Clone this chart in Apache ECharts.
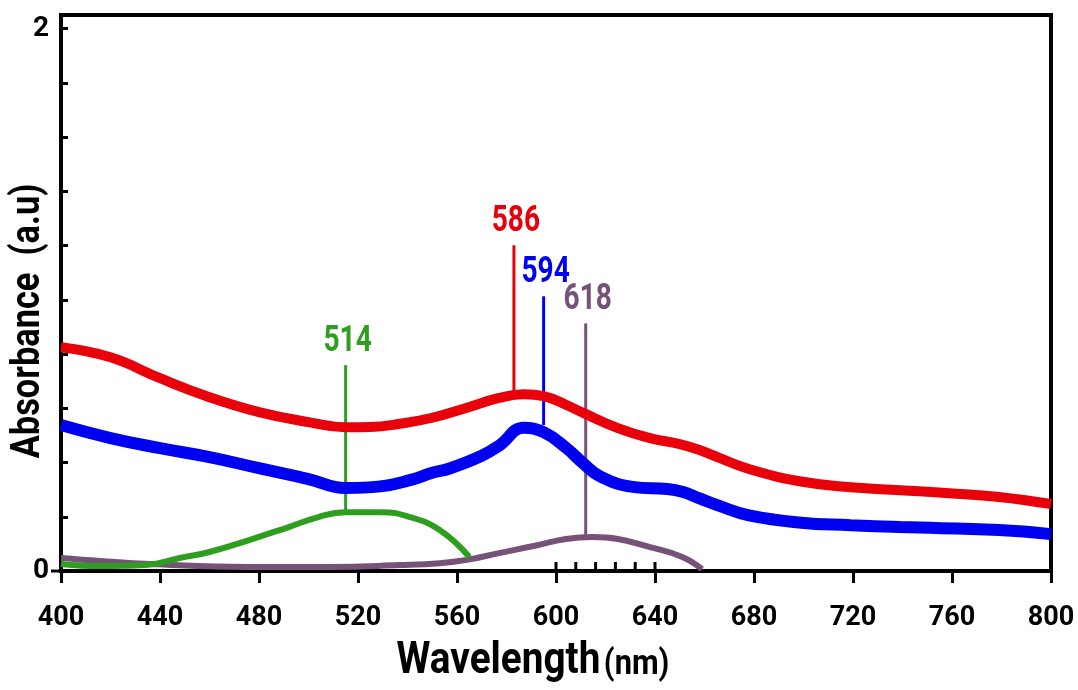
<!DOCTYPE html>
<html>
<head>
<meta charset="utf-8">
<script src="https://cdn.jsdelivr.net/npm/echarts@6/dist/echarts.min.js"></script>
<style>
html,body{margin:0;padding:0;background:#fff;}
#chart{width:1078px;height:690px;}
</style>
</head>
<body>
<div id="chart"></div>
<script>
// ---- data ----
const redX   = [400,420,440,460,480,500,515,525,537,550,564,577,587,595,604,611,625,638,650,658,666,678,699,719,739,759,779,800];
const redY   = [0.825,0.788,0.711,0.641,0.586,0.549,0.530,0.531,0.543,0.565,0.602,0.638,0.652,0.645,0.613,0.583,0.527,0.490,0.468,0.446,0.417,0.376,0.330,0.309,0.298,0.287,0.273,0.247];

const blueX  = [400,420,440,460,480,500,515,529,541,550,557,570,577,587,595,604,611,618,631,645,651,658,666,678,699,719,739,779,800];
const blueY  = [0.538,0.490,0.453,0.420,0.379,0.339,0.306,0.312,0.335,0.362,0.378,0.425,0.462,0.528,0.512,0.455,0.397,0.348,0.310,0.302,0.292,0.268,0.240,0.205,0.178,0.169,0.162,0.151,0.136];

const greenX = [400,416,434,448,460,476,492,504,515,529,541,553,565];
const greenY = [0.026,0.018,0.022,0.048,0.070,0.114,0.162,0.199,0.217,0.217,0.199,0.151,0.052];

const purpleX = [400,416,436,476,509,537,553,564,577,591,604,615,625,638,651,659];
const purpleY = [0.048,0.037,0.026,0.015,0.015,0.022,0.029,0.041,0.066,0.092,0.118,0.125,0.118,0.088,0.052,0.007];

// peak marker lines: [x, bottom, top]
const markerLabels = ['514','586','594','618'];
const markerX      = [515, 583, 595, 612];
const markerBottom = [0.225, 0.648, 0.538, 0.125];
const markerTop    = [0.759, 1.201, 1.013, 0.913];

// extra ticks
const xExtraTicks = [600,608,616,624,632,640];   // upward ticks on the x axis
const yOutTicks   = [0];                          // outward tick on the y axis

const xTickLabels = ['400','440','480','520','560','600','640','680','720','760','800'];
const yTickLabels = ['0','2'];

const colors = { red:'#e8000b', blue:'#0000f0', green:'#2e9e1f', purple:'#765279' };
const markerColors = [colors.green, colors.red, colors.blue, colors.purple];

const FONT = "Roboto, 'DejaVu Sans', sans-serif";

function zip(xs, ys){ return xs.map((x,i)=>[x, ys[i]]); }

const lineBase = { type:'line', smooth:0.45, showSymbol:false, symbol:'none' };
const series = [
  Object.assign({}, lineBase, { name:'red', data:zip(redX,redY), lineStyle:{color:colors.red, width:10}, z:3 }),
  Object.assign({}, lineBase, { name:'blue', data:zip(blueX,blueY), lineStyle:{color:colors.blue, width:12}, z:3 }),
  Object.assign({}, lineBase, { name:'green', data:zip(greenX,greenY), lineStyle:{color:colors.green, width:6}, z:4 }),
  Object.assign({}, lineBase, { name:'purple', data:zip(purpleX,purpleY), lineStyle:{color:colors.purple, width:6}, z:3 })
];

series.push({
  name:'markers', type:'custom', clip:false, z:2,
  data: markerX.map((x,i) => [x, markerBottom[i], markerTop[i], i]),
  renderItem: function(params, api){
    const i = api.value(3);
    const pb = api.coord([api.value(0), api.value(1)]);
    const pt = api.coord([api.value(0), api.value(2)]);
    return { type:'group', children:[
      { type:'line', shape:{x1:pb[0], y1:pb[1], x2:pt[0], y2:pt[1]},
        style:{stroke:markerColors[i], lineWidth:3} },
      { type:'text', x:pt[0]+2, y:pt[1]-5, scaleX:0.78,
        style:{text:markerLabels[i], fill:markerColors[i], fontFamily:FONT, fontWeight:'bold',
               fontSize:36, align:'center', verticalAlign:'bottom'} }
    ]};
  }
});

series.push({
  name:'xticks', type:'custom', clip:false, z:10,
  data: xExtraTicks.map(x => [x, 0]),
  renderItem: function(params, api){
    const p = api.coord([api.value(0), 0]);
    return { type:'line', shape:{x1:p[0], y1:p[1], x2:p[0], y2:p[1]-9},
             style:{stroke:'#000', lineWidth:3} };
  }
});

series.push({
  name:'yticks', type:'custom', clip:false, z:10,
  data: yOutTicks.map(y => [400, y]),
  renderItem: function(params, api){
    const p = api.coord([api.value(0), api.value(1)]);
    return { type:'line', shape:{x1:p[0], y1:p[1], x2:p[0]-10, y2:p[1]},
             style:{stroke:'#000', lineWidth:3} };
  }
});

const chart = echarts.init(document.getElementById('chart'), null, {renderer:'canvas'});
chart.setOption({
  animation:false,
  backgroundColor:'#fff',
  grid:{left:61, right:27, top:15, bottom:119, show:true, borderColor:'#000', borderWidth:4},
  xAxis:{
    type:'value', min:400, max:800, interval:40,
    axisLine:{show:true, onZero:false, lineStyle:{color:'#000', width:4}},
    axisTick:{show:true, inside:false, length:12, lineStyle:{color:'#000', width:3}},
    splitLine:{show:false},
    axisLabel:{margin:34, color:'#000', fontFamily:FONT, fontWeight:'bold', fontSize:27,
      formatter: v => { const s = String(Math.round(v)); return xTickLabels.includes(s) ? s : ''; }}
  },
  yAxis:{
    type:'value', min:0, max:2.05, interval:0.2,
    axisLine:{show:true, lineStyle:{color:'#000', width:4}},
    axisTick:{show:true, inside:true, length:7, lineStyle:{color:'#000', width:3}},
    splitLine:{show:false},
    axisLabel:{margin:12, color:'#000', fontFamily:FONT, fontWeight:'bold', fontSize:28,
      formatter: v => { if (Math.abs(v) < 1e-6) return yTickLabels[0];
                        if (Math.abs(v-2) < 1e-6) return yTickLabels[1]; return ''; }}
  },
  graphic:[
    { type:'text', x:29, y:321, rotation:Math.PI/2, scaleX:0.86,
      style:{text:'Absorbance  (a.u)', fontFamily:FONT, fontWeight:'bold', fontSize:40,
             fill:'#000', align:'center', verticalAlign:'middle'} },
    { type:'text', x:533, y:662, scaleX:0.88,
      style:{text:'{a|Wavelength}{b|(nm)}', align:'center', verticalAlign:'middle',
        rich:{ a:{fontFamily:FONT, fontWeight:'bold', fontSize:44, fill:'#000', color:'#000'},
               b:{fontFamily:FONT, fontWeight:'bold', fontSize:35, fill:'#000', color:'#000', padding:[6,0,0,4]} }} }
  ],
  series: series
});
</script>
</body>
</html>
